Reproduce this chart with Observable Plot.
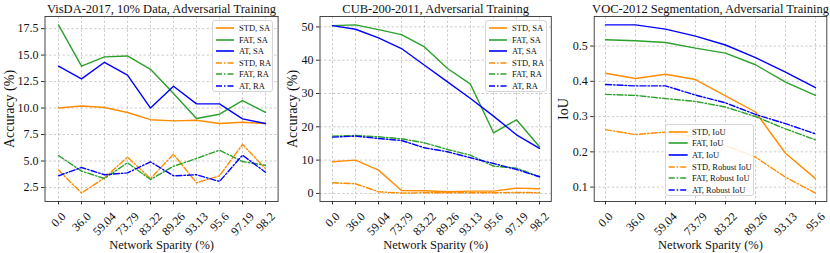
<!DOCTYPE html>
<html><head><meta charset="utf-8">
<script src="https://cdn.jsdelivr.net/npm/d3@7"></script>
<script src="https://cdn.jsdelivr.net/npm/@observablehq/plot@0.6"></script>
<style>
body{margin:0;background:#fff;}
#root{position:relative;width:830px;height:253px;overflow:hidden;font-family:'Liberation Serif','Times New Roman',serif;}
.panel{position:absolute;top:0;}
.legend{position:absolute;border:1px solid #d6d6d6;border-radius:3px;background:rgba(255,255,255,0.85);box-sizing:border-box;font-size:8.5px;color:#111;}
.row{display:flex;align-items:center;height:11.5px;white-space:nowrap;}
.row svg{display:block;}
</style></head><body><div id="root"></div>
<script>
// ---------- data ----------
const visdaSparsity = ["0.0","36.0","59.04","73.79","83.22","89.26","93.13","95.6","97.19","98.2"];
const visdaStdSA = [10.0, 10.2, 10.05, 9.58, 8.9, 8.79, 8.85, 8.54, 8.66, 8.54];
const visdaFatSA = [17.85, 13.95, 14.83, 14.92, 13.66, 11.37, 9.01, 9.42, 10.71, 9.58];
const visdaAtSA  = [13.95, 12.75, 14.32, 13.1, 10.0, 12.06, 10.39, 10.39, 8.98, 8.54];
const visdaStdRA = [4.14, 1.97, 3.41, 5.36, 3.35, 5.64, 2.94, 3.6, 6.56, 4.29];
const visdaFatRA = [5.52, 4.04, 3.35, 4.83, 3.25, 4.5, 5.24, 6.02, 4.95, 4.6];
const visdaAtRA  = [3.6, 4.39, 3.7, 3.88, 4.92, 3.6, 3.7, 3.07, 5.55, 3.94];
const visdaYTicks = [2.5, 5.0, 7.5, 10.0, 12.5, 15.0, 17.5];

const cubSparsity = ["0.0","36.0","59.04","73.79","83.22","89.26","93.13","95.6","97.19","98.2"];
const cubStdSA = [9.5, 10.0, 7.0, 0.9, 0.8, 0.5, 0.7, 0.7, 1.6, 1.4];
const cubFatSA = [50.4, 50.6, 49.2, 47.7, 44.0, 37.5, 32.8, 18.2, 22.1, 14.0];
const cubAtSA  = [50.4, 49.3, 46.7, 43.5, 38.5, 33.5, 28.5, 23.2, 17.6, 13.5];
const cubStdRA = [3.2, 2.9, 0.5, 0.1, 0.2, 0.2, 0.2, 0.2, 0.3, 0.2];
const cubFatRA = [17.2, 17.4, 17.0, 16.4, 15.2, 13.2, 11.5, 8.2, 7.6, 5.0];
const cubAtRA  = [16.9, 17.2, 16.5, 15.9, 13.7, 12.5, 10.7, 9.0, 7.2, 5.0];
const cubYTicks = [0, 10, 20, 30, 40, 50];

const vocSparsity = ["0.0","36.0","59.04","73.79","83.22","89.26","93.13","95.6"];
const vocStdIoU = [0.423, 0.408, 0.420, 0.405, 0.359, 0.313, 0.196, 0.124];
const vocFatIoU = [0.518, 0.515, 0.510, 0.494, 0.480, 0.447, 0.398, 0.360];
const vocAtIoU  = [0.560, 0.560, 0.548, 0.528, 0.503, 0.467, 0.426, 0.382];
const vocStdRob = [0.263, 0.249, 0.256, 0.242, 0.218, 0.185, 0.128, 0.083];
const vocFatRob = [0.363, 0.360, 0.351, 0.343, 0.327, 0.300, 0.265, 0.234];
const vocAtRob  = [0.391, 0.387, 0.387, 0.361, 0.339, 0.306, 0.280, 0.251];
const vocYTicks = [0.1, 0.2, 0.3, 0.4, 0.5];

const titles = ["VisDA-2017, 10% Data, Adversarial Training", "CUB-200-2011, Adversarial Training", "VOC-2012 Segmentation, Adversarial Training"];
const xLabel = "Network Sparity (%)";
const yLabels = ["Accuracy (%)", "Accuracy (%)", "IoU"];
const accNames = ["STD, SA", "FAT, SA", "AT, SA", "STD, RA", "FAT, RA", "AT, RA"];
const iouNames = ["STD, IoU", "FAT, IoU", "AT, IoU", "STD, Robust IoU", "FAT, Robust IoU", "AT, Robust IoU"];

// ---------- style ----------
const ORANGE = "#ff8c00", GREEN = "#2ca02c", BLUE = "#0000ff";
const colors = [ORANGE, GREEN, BLUE, ORANGE, GREEN, BLUE];
const DASHDOT = "6,2,1.5,2";
const dashes = [null, null, null, DASHDOT, DASHDOT, DASHDOT];
const FONT = "'Liberation Serif', 'Times New Roman', serif";
const TICK_FS = 12;

const ctx = document.createElement("canvas").getContext("2d");
ctx.font = `${TICK_FS}px ${FONT}`;

const root = document.getElementById("root");

function makePanel(cfg) {
  const {left, width, marginLeft, marginRight, title, ylabel, ylabelDx, labels, values, names, yTicks, yFormat, padding, legend} = cfg;
  const all = values.flat();
  const lo = d3.min(all), hi = d3.max(all), r = hi - lo;
  const series = values.map((vals, k) => vals.map((v, i) => ({x: labels[i], y: v, k})));
  const txt = {fontFamily: FONT, fill: "#111"};

  const marks = [
    Plot.gridY(yTicks, {stroke: "#b8b8b8", strokeOpacity: 1, strokeWidth: 0.7, strokeDasharray: "2.5,2"}),
    Plot.gridX(labels, {stroke: "#b8b8b8", strokeOpacity: 1, strokeWidth: 0.7, strokeDasharray: "2.5,2"}),
    ...series.map((s, k) => Plot.line(s, {x: "x", y: "y", stroke: colors[k], strokeWidth: 1.4, strokeDasharray: dashes[k]})),
    Plot.frame({stroke: "#333", strokeWidth: 0.9}),
    Plot.axisY(yTicks, {tickSize: 3.5, tickPadding: 3, tickFormat: yFormat, fontSize: TICK_FS, stroke: "#333", ...txt, label: null}),
    Plot.axisX(labels, {tickSize: 3.5, tickFormat: () => "", stroke: "#333", label: null}),
    ...labels.map(l => {
      const w = ctx.measureText(l).width;
      const dy = 10 + 0.7071 * (w + 0.7 * TICK_FS) / 2;
      return Plot.text([l], {x: d => d, frameAnchor: "bottom", rotate: -45, textAnchor: "middle", lineAnchor: "middle", dy, fontSize: TICK_FS, ...txt});
    }),
    Plot.text([title], {frameAnchor: "top", lineAnchor: "bottom", dy: -4, fontSize: 12.5, ...txt}),
    Plot.text([xLabel], {frameAnchor: "bottom", lineAnchor: "bottom", dy: 47, fontSize: 12.5, ...txt}),
    Plot.text([ylabel], {frameAnchor: "left", rotate: -90, textAnchor: "middle", lineAnchor: "middle", dx: ylabelDx, fontSize: 14, ...txt})
  ];

  const chart = Plot.plot({
    width, height: 253,
    marginLeft, marginRight, marginTop: 16, marginBottom: 52,
    style: {fontFamily: FONT, background: "transparent", overflow: "visible", fontSize: TICK_FS + "px"},
    x: {type: "point", domain: labels, padding, axis: null},
    y: {domain: [lo - 0.05 * r, hi + 0.05 * r], axis: null},
    marks
  });
  const holder = document.createElement("div");
  holder.className = "panel";
  holder.style.left = left + "px";
  holder.appendChild(chart);
  root.appendChild(holder);

  // legend
  const lg = document.createElement("div");
  lg.className = "legend";
  Object.assign(lg.style, {left: legend.left + "px", top: legend.top + "px", width: legend.width + "px", height: legend.height + "px", paddingTop: legend.padTop + "px"});
  names.forEach((n, k) => {
    const row = document.createElement("div");
    row.className = "row";
    row.style.height = legend.rowH + "px";
    row.innerHTML = `<svg width="${legend.handle + legend.hx + 5}" height="6"><line x1="${legend.hx}" x2="${legend.hx + legend.handle}" y1="3" y2="3" stroke="${colors[k]}" stroke-width="1.6" ${dashes[k] ? `stroke-dasharray="${dashes[k]}"` : ""}/></svg><span style="margin-left:${legend.tx - legend.hx - legend.handle - 5}px">${n}</span>`;
    lg.appendChild(row);
  });
  root.appendChild(lg);
}

makePanel({left: 0, width: 279, marginLeft: 44.5, marginRight: 1.4, title: titles[0], ylabel: yLabels[0], ylabelDx: -35,
  labels: visdaSparsity, values: [visdaStdSA, visdaFatSA, visdaAtSA, visdaStdRA, visdaFatRA, visdaAtRA], names: accNames,
  yTicks: visdaYTicks, yFormat: d3.format(".1f"), padding: 0.45,
  legend: {left: 212, top: 20, width: 61, height: 72, padTop: 1.5, rowH: 11.5, hx: 3, handle: 18, tx: 26}});

makePanel({left: 279, width: 276, marginLeft: 40.5, marginRight: 4.2, title: titles[1], ylabel: yLabels[1], ylabelDx: -27.5,
  labels: cubSparsity, values: [cubStdSA, cubFatSA, cubAtSA, cubStdRA, cubFatRA, cubAtRA], names: accNames,
  yTicks: cubYTicks, yFormat: d3.format("d"), padding: 0.45,
  legend: {left: 485, top: 20, width: 62, height: 72, padTop: 1.5, rowH: 11.5, hx: 3, handle: 18, tx: 26}});

makePanel({left: 555, width: 275, marginLeft: 38.7, marginRight: 3.7, title: titles[2], ylabel: yLabels[2], ylabelDx: -31,
  labels: vocSparsity, values: [vocStdIoU, vocFatIoU, vocAtIoU, vocStdRob, vocFatRob, vocAtRob], names: iouNames,
  yTicks: vocYTicks, yFormat: d3.format(".1f"), padding: 0.35,
  legend: {left: 665, top: 124, width: 89, height: 72, padTop: 1, rowH: 11.6, hx: 2.7, handle: 19, tx: 26}});
</script></body></html>
